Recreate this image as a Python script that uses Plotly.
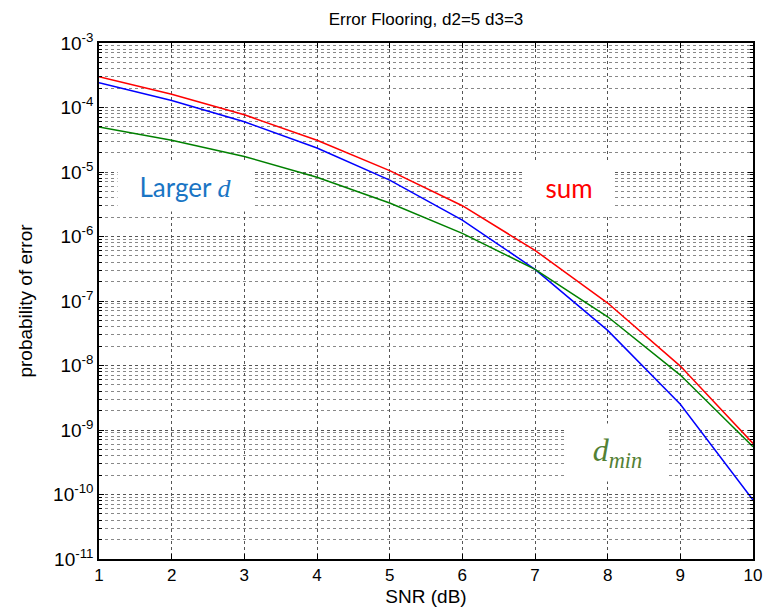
import plotly.graph_objects as go

snr_db = [1, 2, 3, 4, 5, 6, 7, 8, 9, 10]
p_sum = [3.0e-4, 1.6e-4, 7.7e-5, 3.1e-5, 1.05e-5, 3.0e-6, 6.1e-7, 9.3e-8, 9.8e-9, 6.2e-10]
p_larger_d = [2.43e-4, 1.28e-4, 6.0e-5, 2.35e-5, 7.5e-6, 1.8e-6, 3.1e-7, 3.5e-8, 2.5e-9, 8.2e-11]
p_dmin = [5.0e-5, 3.1e-5, 1.74e-5, 8.3e-6, 3.3e-6, 1.12e-6, 3.1e-7, 5.7e-8, 7.1e-9, 5.5e-10]

y_tick_exps = [-3, -4, -5, -6, -7, -8, -9, -10, -11]
y_tick_vals = [10.0 ** e for e in y_tick_exps]
y_tick_text = ["10<sup>%d</sup>" % e for e in y_tick_exps]

fig = go.Figure()
fig.add_trace(go.Scatter(x=snr_db, y=p_sum, mode="lines", line=dict(color="#ff0000", width=1.5), name="sum"))
fig.add_trace(go.Scatter(x=snr_db, y=p_larger_d, mode="lines", line=dict(color="#0000ff", width=1.5), name="Larger d"))
fig.add_trace(go.Scatter(x=snr_db, y=p_dmin, mode="lines", line=dict(color="#008000", width=1.5), name="dmin"))

grid_major = "#555555"
grid_minor = "#888888"
fig.update_layout(
    width=775, height=609,
    margin=dict(l=91, r=30, t=35, b=58, autoexpand=False),
    paper_bgcolor="white", plot_bgcolor="white",
    showlegend=False,
    font=dict(family="Liberation Sans, Arial, sans-serif", size=17, color="black"),
    title=dict(text="Error Flooring, d2=5 d3=3", x=0.5, xref="paper", xanchor="center",
               yref="container", y=0.982, yanchor="middle",
               font=dict(size=17, color="black")),
)
fig.update_xaxes(
    range=[1, 10], tickmode="array", tickvals=snr_db, ticktext=[str(v) for v in snr_db],
    tickfont=dict(size=17),
    showline=True, linecolor="black", linewidth=1.5, mirror="ticks",
    ticks="inside", ticklen=5, tickcolor="black",
    showgrid=True, gridcolor=grid_major, griddash="dot", gridwidth=1,
    zeroline=False, automargin=False,
    title=dict(text="SNR (dB)", standoff=6, font=dict(size=19)),
)
fig.update_yaxes(
    type="log", range=[-11, -3], tickmode="array", tickvals=y_tick_vals, ticktext=y_tick_text,
    tickfont=dict(size=19),
    showline=True, linecolor="black", linewidth=1.5, mirror="ticks",
    ticks="inside", ticklen=5, tickcolor="black",
    showgrid=True, gridcolor=grid_major, griddash="dot", gridwidth=1,
    minor=dict(dtick="D1", showgrid=True, gridcolor=grid_minor, griddash="dot", gridwidth=1,
               ticks="inside", ticklen=3, tickcolor="black"),
    zeroline=False, automargin=False,
    title=dict(text="probability of error", standoff=15, font=dict(size=19)),
)

fig.add_annotation(x=2.19, y=-5.225, xref="x", yref="y",
                   text="Larger <span style='font-family:Liberation Serif;font-style:italic'>d</span>",
                   showarrow=False, bgcolor="white", width=133, height=47,
                   font=dict(family="Lato, Carlito, sans-serif", size=26, color="#1a75c4"))
fig.add_annotation(x=7.465, y=-5.24, xref="x", yref="y", text="sum",
                   showarrow=False, bgcolor="white", width=88, height=51,
                   font=dict(family="Lato, Carlito, sans-serif", size=26, color="#ff0000"))
fig.add_annotation(x=8.13, y=-9.35, xref="x", yref="y",
                   text="<i>d</i><sub><i>min</i></sub>",
                   showarrow=False, bgcolor="white", width=99, height=55,
                   font=dict(family="Liberation Serif, serif", size=32, color="#538135"))

fig.write_html("out.html")
